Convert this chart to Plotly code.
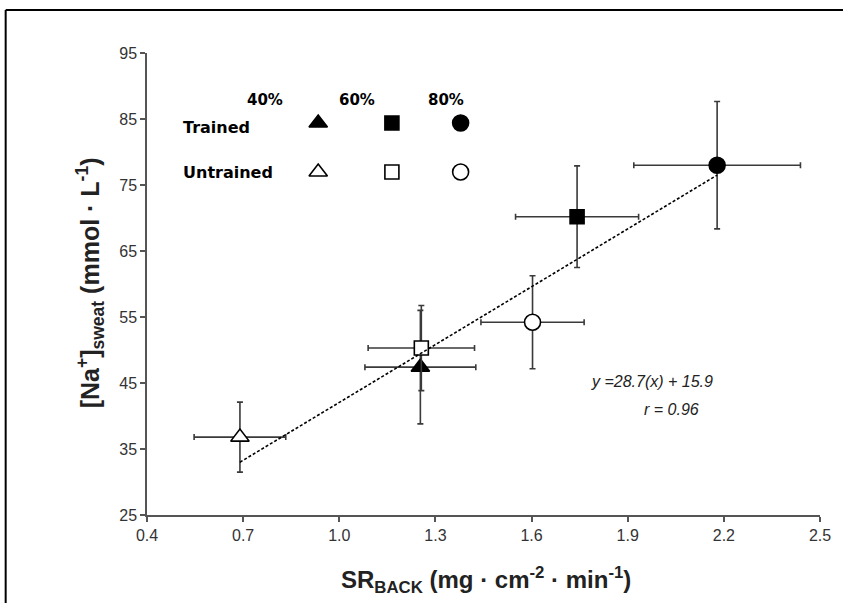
import plotly.graph_objects as go

# ---- data ----
groups = ["Trained 40%", "Trained 60%", "Trained 80%",
          "Untrained 40%", "Untrained 60%", "Untrained 80%"]
sr_back = [1.253, 1.742, 2.179, 0.690, 1.256, 1.603]
sr_err = [0.173, 0.192, 0.260, 0.143, 0.166, 0.161]
na_sweat = [47.4, 70.2, 78.0, 36.8, 50.3, 54.2]
na_err = [8.6, 7.7, 9.65, 5.3, 6.45, 7.05]
symbols = ["triangle-up", "square", "circle",
           "triangle-up-open", "square-open", "circle-open"]

fit_x = [0.690, 2.179]
fit_y = [33.0, 76.5]

x_ticks = [0.4, 0.7, 1.0, 1.3, 1.6, 1.9, 2.2, 2.5]
y_ticks = [25, 35, 45, 55, 65, 75, 85, 95]

intensity_labels = ["40%", "60%", "80%"]
status_labels = ["Trained", "Untrained"]
equation_text = "y =28.7(x) + 15.9"
r_text = "r = 0.96"

FONT = "Liberation Sans, Arial, sans-serif"
LFONT = "DejaVu Sans, Verdana, sans-serif"
ERRC = "#3a3a3a"
AXC = "#555555"
SIZES = {"triangle-up": 16, "square": 14, "circle": 16}

fig = go.Figure()

# error bars + markers
for i in range(len(groups)):
    filled = not symbols[i].endswith("open")
    base = symbols[i].replace("-open", "")
    fig.add_trace(go.Scatter(
        x=[sr_back[i]], y=[na_sweat[i]], mode="markers", name=groups[i],
        error_x=dict(type="data", array=[sr_err[i]], color=ERRC, thickness=1.6, width=3),
        error_y=dict(type="data", array=[na_err[i]], color=ERRC, thickness=1.6, width=3),
        marker=dict(symbol=base, size=SIZES[base],
                    color="black" if filled else "white",
                    line=dict(color="black", width=1.6)),
        showlegend=False, hoverinfo="skip"))

# regression line
fig.add_trace(go.Scatter(x=fit_x, y=fit_y, mode="lines",
                         line=dict(color="black", width=1.6, dash="3px,2px"),
                         showlegend=False, hoverinfo="skip"))

# legend key (on an overlay axis in 0..1 plot-fraction units)
key_cols = [0.2544, 0.3639, 0.466]
key_rows = [0.8485, 0.7424]
for r, row in enumerate(key_rows):
    for c, col in enumerate(key_cols):
        base = ["triangle-up", "square", "circle"][c]
        fig.add_trace(go.Scatter(
            x=[col], y=[row], mode="markers", xaxis="x2", yaxis="y2",
            marker=dict(symbol=base, size=SIZES[base],
                        color="black" if r == 0 else "white", opacity=1,
                        line=dict(color="black", width=1.6)),
            showlegend=False, hoverinfo="skip"))

ann = []
head_x = [0.1746, 0.312, 0.445]
for lab, hx in zip(intensity_labels, head_x):
    ann.append(dict(x=hx, y=0.898, xref="paper", yref="paper", text="<b>%s</b>" % lab,
                    showarrow=False, font=dict(family=LFONT, size=15, color="black"),
                    xanchor="center", yanchor="middle"))
for lab, ry in zip(status_labels, [0.8398, 0.7424]):
    ann.append(dict(x=0.0503, y=ry, xref="paper", yref="paper", text="<b>%s</b>" % lab,
                    showarrow=False, font=dict(family=LFONT, size=16, color="black"),
                    xanchor="left", yanchor="middle"))
ann.append(dict(x=0.75, y=0.29, xref="paper", yref="paper", text="<i>%s</i>" % equation_text,
                showarrow=False, font=dict(family=FONT, size=16, color="#222"),
                xanchor="center", yanchor="middle"))
ann.append(dict(x=0.7796, y=0.2294, xref="paper", yref="paper", text="<i>%s</i>" % r_text,
                showarrow=False, font=dict(family=FONT, size=16, color="#222"),
                xanchor="center", yanchor="middle"))
# axis titles
ann.append(dict(x=0.5044, y=-0.1407, xref="paper", yref="paper",
                text="<b>SR<sub>BACK</sub> (mg · cm<sup>-2</sup> · min<sup>-1</sup>)</b>",
                showarrow=False, font=dict(family=FONT, size=24, color="#222"),
                xanchor="center", yanchor="middle"))
ann.append(dict(x=-0.0843, y=0.502, xref="paper", yref="paper", textangle=-90,
                text="<b>[Na<sup>+</sup>]<sub>sweat</sub> (mmol · L<sup>-1</sup>)</b>",
                showarrow=False, font=dict(family=FONT, size=25, color="#222"),
                xanchor="center", yanchor="middle"))

shapes = [
    dict(type="line", xref="paper", yref="paper", x0=-0.210, x1=-0.210, y0=-0.25, y1=1.093,
         line=dict(color="black", width=2)),
    dict(type="line", xref="paper", yref="paper", x0=-0.210, x1=1.08, y0=1.093, y1=1.093,
         line=dict(color="black", width=2)),
]

fig.update_layout(
    width=843, height=603,
    margin=dict(l=147, r=20, t=53, b=88),
    paper_bgcolor="white", plot_bgcolor="white",
    xaxis=dict(range=[0.4, 2.5], tickvals=x_ticks, tickformat=".1f",
               showgrid=False, zeroline=False, showline=True, linecolor=AXC, linewidth=1.5,
               ticks="outside", ticklen=5, tickwidth=1.5, tickcolor=AXC,
               tickfont=dict(family=FONT, size=16, color="#333")),
    yaxis=dict(range=[25, 95], tickvals=y_ticks,
               showgrid=False, zeroline=False, showline=True, linecolor=AXC, linewidth=1.5,
               ticks="outside", ticklen=5, tickwidth=1.5, tickcolor=AXC,
               tickfont=dict(family=FONT, size=16, color="#333")),
    xaxis2=dict(range=[0, 1], overlaying="x", visible=False, fixedrange=True),
    yaxis2=dict(range=[0, 1], overlaying="y", visible=False, fixedrange=True),
    annotations=ann, shapes=shapes, showlegend=False,
)

fig.write_html("out.html")
